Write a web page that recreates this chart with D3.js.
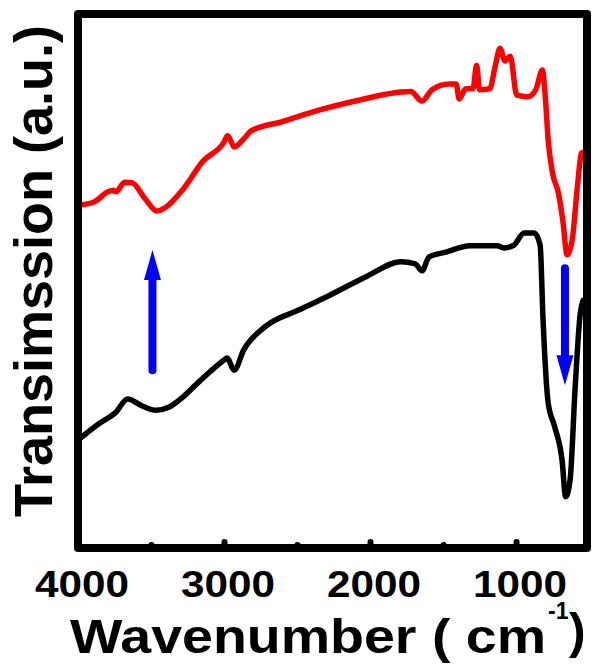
<!DOCTYPE html>
<html>
<head>
<meta charset="utf-8">
<script src="https://cdn.jsdelivr.net/npm/d3@7/dist/d3.min.js"></script>
<style>
  html, body { margin: 0; padding: 0; background: #fff; }
  svg { display: block; }
  text { font-family: "Liberation Sans", Arial, sans-serif; font-weight: bold; fill: #000; }
</style>
</head>
<body>
<div id="chart"></div>
<script>
// ---- data ----
const redWavenumber = [4000,3890,3795,3760,3740,3680,3630,3540,3460,3395,3280,3145,3000,2975,2930,2865,2815,2605,2350,2070,1790,1720,1645,1575,1460,1410,1390,1345,1295,1270,1250,1180,1145,1110,1075,1040,995,920,865,820,800,780,750,710,680,650,615,580,550,520];
const redTransmission = [64.2,64.8,66.7,67.0,66.7,68.5,68.4,65.4,63.1,63.9,67.2,72.4,76.0,77.2,75.1,76.6,78.1,79.8,82.0,83.9,85.4,85.5,83.7,85.8,86.9,86.9,84.1,86.0,86.0,90.4,85.8,86.0,89.9,93.6,91.2,92.1,84.8,84.5,85.8,89.5,84.6,76.4,70.2,66.5,61.4,54.9,57.7,67.6,74.0,72.7];

const blackWavenumber = [4000,3850,3745,3660,3560,3465,3375,3280,3165,3000,2980,2930,2865,2720,2485,2300,2020,1790,1690,1645,1595,1480,1315,1130,1085,1015,945,875,835,815,780,735,685,660,630,595,560,540];
const blackTransmission = [20.2,23.4,25.3,27.9,26.6,25.8,26.4,28.3,31.3,35.2,35.6,33.3,37.1,41.4,44.6,47.0,50.9,53.6,53.2,51.9,54.5,55.4,56.6,56.6,56.2,56.7,59.0,59.0,56.7,42.7,27.2,22.7,16.5,9.6,12.7,30.1,44.0,46.4];

const majorTicks = [4000, 3000, 2000, 1000];
const minorTicks = [3500, 2500, 1500];

const arrowWavenumber = [3490, 665];
const arrowFrom = [33.3, 52.4];
const arrowTo = [55.8, 30.5];

const xDomain = [4000, 514];
const yDomain = [0, 100];

// ---- drawing ----
const W = 594, H = 664;
const mLeft = 78, mRight = 587, mTop = 14, mBottom = 548;

const svg = d3.select("#chart").append("svg").attr("width", W).attr("height", H);

const x = d3.scaleLinear().domain(xDomain).range([mLeft, mRight]);
const y = d3.scaleLinear().domain(yDomain).range([mBottom, mTop]);

svg.append("defs").append("clipPath").attr("id", "plotclip")
  .append("rect").attr("x", mLeft).attr("y", mTop).attr("width", mRight - mLeft).attr("height", mBottom - mTop);

const line = d3.line().x(d => x(d[0])).y(d => y(d[1])).curve(d3.curveMonotoneX);

const g = svg.append("g").attr("clip-path", "url(#plotclip)");

const redData = redWavenumber.map((w, i) => [w, redTransmission[i]]);
const blackData = blackWavenumber.map((w, i) => [w, blackTransmission[i]]);

g.append("path").datum(blackData).attr("d", line)
  .attr("fill", "none").attr("stroke", "#000").attr("stroke-width", 5.5)
  .attr("stroke-linejoin", "round").attr("stroke-linecap", "round");
g.append("path").datum(redData).attr("d", line)
  .attr("fill", "none").attr("stroke", "#ff0000").attr("stroke-width", 5.5)
  .attr("stroke-linejoin", "round").attr("stroke-linecap", "round");

// arrows
const blue = "#0000ff";
arrowWavenumber.forEach((w, i) => {
  const ax = x(w);
  const y0 = y(arrowFrom[i]);
  const y1 = y(arrowTo[i]);
  const dir = y1 < y0 ? -1 : 1;
  const headLen = 30, headW = 17;
  const baseY = y1 - dir * headLen;
  svg.append("line").attr("x1", ax).attr("x2", ax).attr("y1", y0).attr("y2", baseY + dir * 2)
    .attr("stroke", blue).attr("stroke-width", 8).attr("stroke-linecap", "round");
  svg.append("path")
    .attr("d", `M${ax - headW / 2},${baseY}L${ax + headW / 2},${baseY}L${ax},${y1}Z`)
    .attr("fill", blue);
});

// frame
svg.append("rect").attr("x", mLeft).attr("y", mTop).attr("width", mRight - mLeft).attr("height", mBottom - mTop)
  .attr("fill", "none").attr("stroke", "#000").attr("stroke-width", 8).attr("stroke-linejoin", "round");

// ticks (inward from bottom)
const axMajor = d3.axisBottom(x).tickValues(majorTicks).tickSize(-6).tickFormat("");
const axMinor = d3.axisBottom(x).tickValues(minorTicks).tickSize(-3).tickFormat("");
[axMajor, axMinor].forEach(ax => {
  const a = svg.append("g").attr("transform", `translate(0,${mBottom})`).call(ax);
  a.select(".domain").remove();
  a.selectAll(".tick line").attr("stroke", "#000").attr("stroke-width", 6).attr("stroke-linecap", "round");
});

// tick labels
svg.append("g").selectAll("text").data(majorTicks).join("text")
  .attr("x", d => x(d) + 4).attr("y", 597)
  .attr("text-anchor", "middle")
  .attr("font-size", 37)
  .attr("textLength", 94).attr("lengthAdjust", "spacingAndGlyphs")
  .text(d => d);

// x title
svg.append("text").attr("x", 70).attr("y", 653).attr("font-size", 48)
  .attr("textLength", 476).attr("lengthAdjust", "spacingAndGlyphs")
  .text("Wavenumber ( cm");
svg.append("text").attr("x", 548).attr("y", 619).attr("font-size", 23)
  .text("-1");
svg.append("text").attr("x", 569).attr("y", 648).attr("font-size", 50)
  .text(")");

// y title
svg.append("text").attr("transform", "translate(52,271) rotate(-90)")
  .attr("text-anchor", "middle").attr("font-size", 54)
  .text("Transimssion (a.u.)");
</script>
</body>
</html>
